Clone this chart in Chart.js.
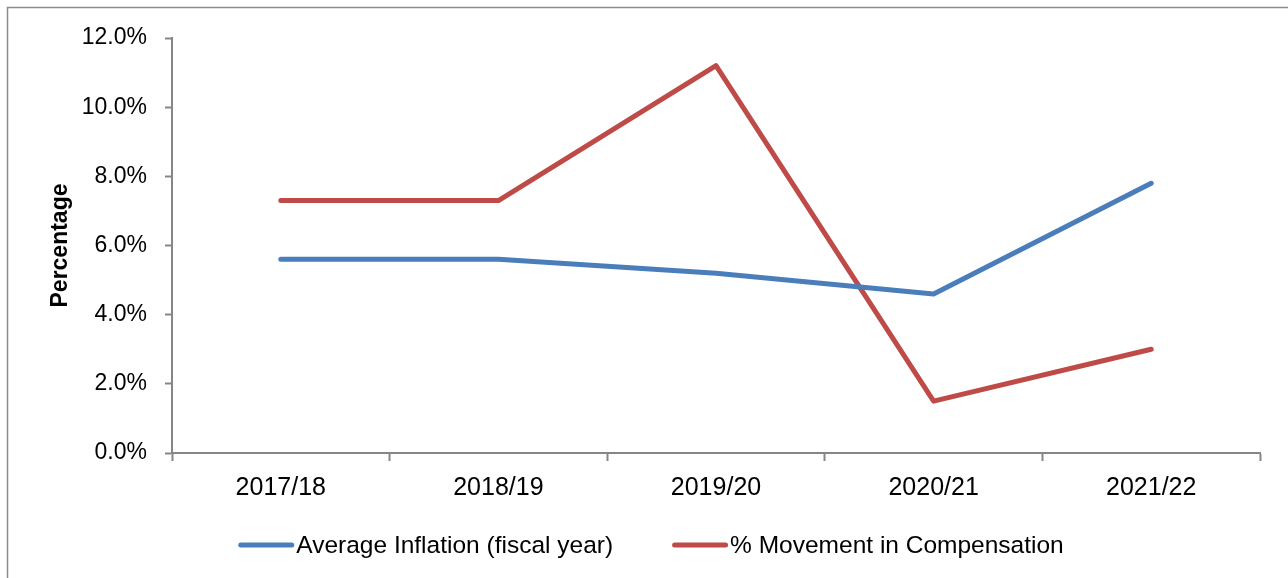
<!DOCTYPE html>
<html>
<head>
<meta charset="utf-8">
<script src="https://cdn.jsdelivr.net/npm/chart.js@4/dist/chart.umd.min.js"></script>
<style>
  html, body { margin: 0; padding: 0; background: #ffffff; }
  #wrap { width: 1288px; height: 578px; position: relative; }
</style>
</head>
<body>
<div id="wrap"><canvas id="c" width="1288" height="578"></canvas></div>
<script>
// Fiscal years on the category axis
const years = ['2017/18', '2018/19', '2019/20', '2020/21', '2021/22'];
// Average inflation for each fiscal year (%)
const avgInflation = [5.6, 5.6, 5.2, 4.6, 7.8];
// Year-on-year movement in compensation (%)
const compensationMovement = [7.3, 7.3, 11.2, 1.5, 3.0];
// Percentage axis ticks
const yTicks = [0, 2, 4, 6, 8, 10, 12];

const FONT = "'Liberation Sans', Arial, sans-serif";
const AXIS_GREY = '#868686';

// Thin frame around the chart
const framePlugin = {
  id: 'frame',
  beforeDraw(chart) {
    const ctx = chart.ctx;
    ctx.save();
    ctx.fillStyle = '#ffffff';
    ctx.fillRect(0, 0, chart.width, chart.height);
    ctx.strokeStyle = '#8c8c8c';
    ctx.lineWidth = 1.5;
    ctx.strokeRect(7.5, 7.5, chart.width + 20, chart.height + 20);
    ctx.restore();
  }
};

// Compact legend: line swatch followed directly by the series name
const lineLegendPlugin = {
  id: 'lineLegend',
  afterDraw(chart) {
    const ctx = chart.ctx;
    const ds = chart.data.datasets;
    const swatch = 56, gapText = 2, gapItem = 59;
    ctx.save();
    ctx.font = '24.5px ' + FONT;
    ctx.textBaseline = 'middle';
    const widths = ds.map(d => swatch + gapText + ctx.measureText(d.label).width);
    const total = widths.reduce((a, b) => a + b, 0) + gapItem * (ds.length - 1);
    let x = chart.width / 2 + 7 - total / 2;
    const y = 545;
    ds.forEach((d, i) => {
      ctx.strokeStyle = d.borderColor;
      ctx.lineWidth = 5;
      ctx.lineCap = 'round';
      ctx.beginPath();
      ctx.moveTo(x + 2.5, y);
      ctx.lineTo(x + swatch - 2.5, y);
      ctx.stroke();
      ctx.fillStyle = '#000000';
      ctx.fillText(d.label, x + swatch + gapText, y + 1);
      x += widths[i] + gapItem;
    });
    ctx.restore();
  }
};

new Chart(document.getElementById('c'), {
  type: 'line',
  data: {
    labels: years,
    datasets: [
      {
        label: 'Average Inflation (fiscal year)',
        data: avgInflation,
        borderColor: '#4a7ebb',
        backgroundColor: '#4a7ebb',
        borderWidth: 5,
        borderCapStyle: 'round',
        borderJoinStyle: 'round',
        pointRadius: 0,
        tension: 0
      },
      {
        label: '% Movement in Compensation',
        data: compensationMovement,
        borderColor: '#be4b48',
        backgroundColor: '#be4b48',
        borderWidth: 5,
        borderCapStyle: 'round',
        borderJoinStyle: 'round',
        pointRadius: 0,
        tension: 0
      }
    ]
  },
  options: {
    responsive: false,
    animation: false,
    devicePixelRatio: 1,
    layout: { padding: { left: 0, top: 38, right: 28, bottom: 0 } },
    plugins: {
      legend: { display: false },
      tooltip: { enabled: false }
    },
    scales: {
      x: {
        offset: true,
        grid: {
          offset: true,
          drawOnChartArea: false,
          drawTicks: true,
          tickLength: 8,
          tickWidth: 2,
          tickColor: AXIS_GREY
        },
        border: { display: true, color: AXIS_GREY, width: 2 },
        ticks: {
          color: '#000000',
          font: { family: FONT, size: 25 },
          padding: 12,
          maxRotation: 0
        },
        afterFit(scale) { scale.height = 125; }
      },
      y: {
        min: 0,
        max: 12,
        afterBuildTicks(scale) { scale.ticks = yTicks.map(v => ({ value: v })); },
        grid: {
          drawOnChartArea: false,
          drawTicks: true,
          tickLength: 7,
          tickWidth: 2,
          tickColor: AXIS_GREY
        },
        border: { display: true, color: AXIS_GREY, width: 2 },
        ticks: {
          color: '#000000',
          font: { family: FONT, size: 23 },
          padding: 18,
          callback: v => Number(v).toFixed(1) + '%'
        },
        title: {
          display: true,
          text: 'Percentage',
          color: '#000000',
          font: { family: FONT, size: 23, weight: 'bold' },
          padding: { top: 47, bottom: 0 }
        },
        afterFit(scale) { scale.width = 172; }
      }
    }
  },
  plugins: [framePlugin, lineLegendPlugin]
});
</script>
</body>
</html>
